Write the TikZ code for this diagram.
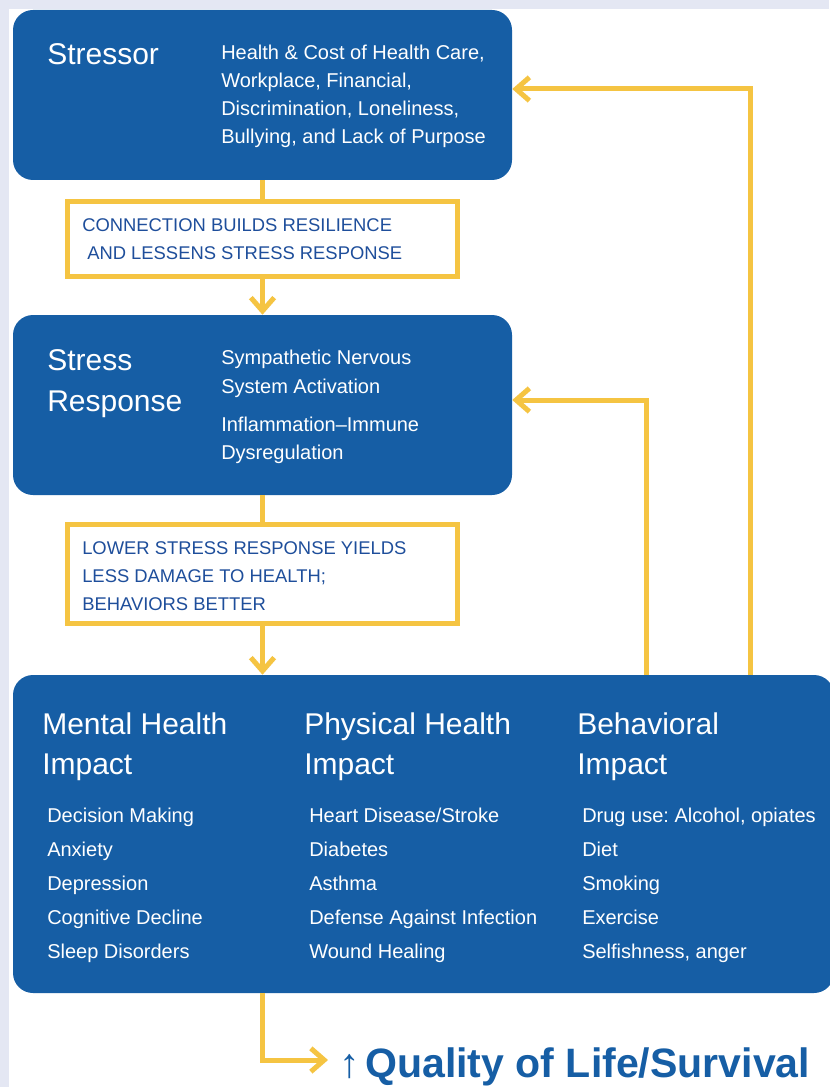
\documentclass[tikz,border=0pt]{standalone}
\usepackage{fontspec}
\setmainfont{Liberation Sans}
\usetikzlibrary{arrows.meta}
\frenchspacing

\definecolor{boxblue}{RGB}{22,94,165}
\definecolor{linkyellow}{RGB}{245,196,66}
\definecolor{linktext}{RGB}{30,78,155}
\definecolor{pagetint}{RGB}{228,231,243}

\tikzset{
	bluebox/.style={fill=boxblue, rounded corners=15pt, inner sep=0pt},
	linkbox/.style={draw=linkyellow, line width=3.75pt, fill=white, inner sep=0pt},
	link/.style={draw=linkyellow, line width=3.75pt},
	flow/.style={link, -{Straight Barb[length=10pt,width=17.5pt]}},
	head/.style={anchor=base west, inner sep=0pt, text=white, font=\fontsize{22.5}{27}\selectfont},
	item/.style={anchor=base west, inner sep=0pt, text=white, font=\fontsize{15}{18}\selectfont},
	note/.style={anchor=base west, inner sep=0pt, text=linktext, font=\fontsize{13.8}{16}\selectfont}
}

\begin{document}
\begin{tikzpicture}[x=0.75pt, y=-0.75pt]
	\useasboundingbox (0,0) rectangle (829,1087);
	\fill[pagetint] (0,0) rectangle (829,1087);
	\fill[white] (9,9) rectangle (829,1087);
	% boxes
	\node[bluebox, minimum width=374.25pt, minimum height=127.5pt] (stressor) at (262.5,95) {};
	\node[bluebox, minimum width=374.25pt, minimum height=135pt] (response) at (262.5,405) {};
	\node[bluebox, minimum width=615.75pt, minimum height=238.5pt] (impact) at (423.5,834) {};
	\node[linkbox, minimum width=292.5pt, minimum height=56.25pt] (link1) at (262.5,239) {};
	\node[linkbox, minimum width=292.5pt, minimum height=74.25pt] (link2) at (262.5,574) {};
	% stressor
	\node[head] (stressor-title) at (47,65) {Stressor};
	\foreach \t [count=\i] in {{Health \& Cost of Health Care,}, {Workplace, Financial,}, {Discrimination, Loneliness,}, {Bullying, and Lack of Purpose}}
		{\node[item] (stressor-\i) at (221,{32.3+27.7*\i}) {\t};}
	% stress response
	\node[head] (response-title1) at (47,370) {Stress};
	\node[head] (response-title2) at (47,411) {Response};
	\foreach \t/\y [count=\i] in {Sympathetic Nervous/364, System Activation/393, Inflammation–Immune/431, Dysregulation/459}
		{\node[item] (response-\i) at (221,\y) {\t};}
	% yellow notes
	\node[note] (link1-1) at (82,232) {CONNECTION BUILDS RESILIENCE};
	\node[note] (link1-2) at (87,260) {AND LESSENS STRESS RESPONSE};
	\foreach \t [count=\i] in {LOWER STRESS RESPONSE YIELDS, {LESS DAMAGE TO HEALTH;}, BEHAVIORS BETTER}
		{\node[note] (link2-\i) at (82,{526+28*\i}) {\t};}
	% impact columns
	\foreach \x/\t [count=\i] in {42/Mental Health, 304/Physical Health, 577/Behavioral}
		{\node[head] (impact-title\i) at (\x,734) {\t};
		 \node[head] (impact-sub\i) at (\x,774) {Impact};}
	\foreach \t [count=\i] in {Decision Making, Anxiety, Depression, Cognitive Decline, Sleep Disorders}
		{\node[item] (mental-\i) at (47,{788+34*\i}) {\t};}
	\foreach \t [count=\i] in {Heart Disease/Stroke, Diabetes, Asthma, Defense Against Infection, Wound Healing}
		{\node[item] (physical-\i) at (309,{788+34*\i}) {\t};}
	\foreach \t [count=\i] in {{Drug use: Alcohol, opiates}, Diet, Smoking, Exercise, {Selfishness, anger}}
		{\node[item] (behavior-\i) at (582,{788+34*\i}) {\t};}
	\node[anchor=base west, inner sep=0pt, text=boxblue, font=\fontsize{30.8}{36}\selectfont\bfseries] (quality) at (339,1077) {{\mdseries ↑}\hspace{4pt}Quality of Life/Survival};
	% connectors
	\draw[link] (stressor) -- (link1);
	\draw[flow] (link1) -- (response);
	\draw[link] (response) -- (link2);
	\draw[flow] (link2.south) -- (link2.south |- impact.north);
	\draw[flow] ([xshift=245.6pt]impact.north) |- ([yshift=4.5pt]stressor.east);
	\draw[flow] ([xshift=167.6pt]impact.north) |- ([yshift=3.75pt]response.east);
	\draw[flow] (link2.south |- impact.south) |- ([xshift=-8.25pt,yshift=12.75pt]quality.base west);
\end{tikzpicture}
\end{document}
